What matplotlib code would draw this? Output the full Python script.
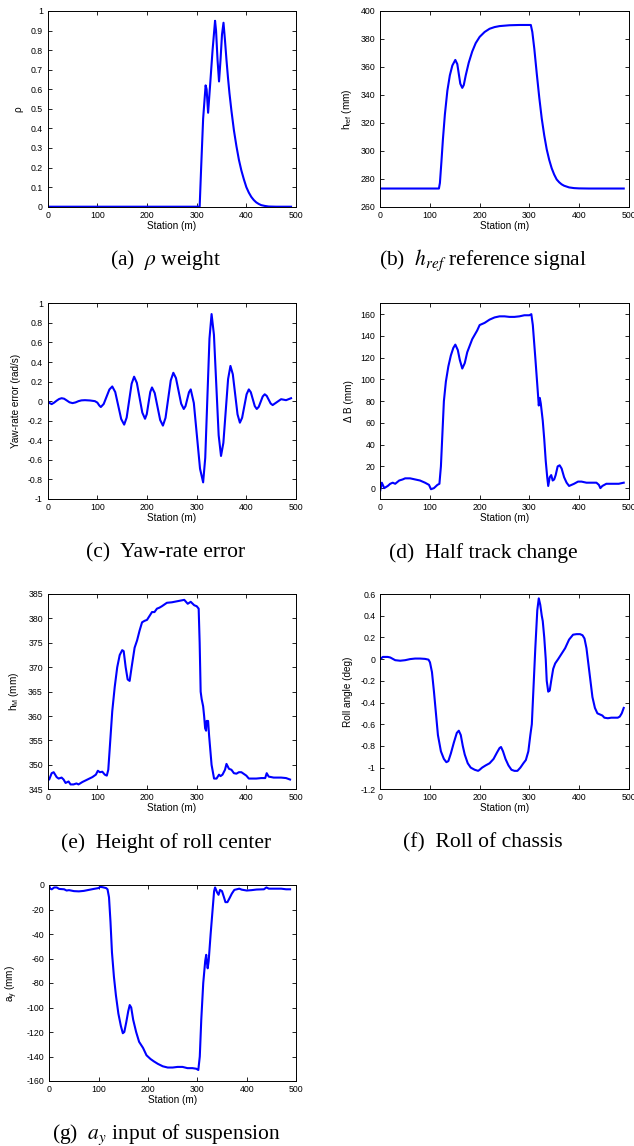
import matplotlib
matplotlib.use("Agg")
import matplotlib.pyplot as plt

plt.rcParams['font.family'] = ['Liberation Sans', 'DejaVu Sans']

# ---------------- data ----------------
rho_s = [0, 100, 200, 300, 306, 309, 313, 318, 320, 323, 327, 332, 337, 339, 342, 345, 348, 351, 354,
         357, 360, 363, 366, 370, 375, 380, 385, 390, 395, 400, 405, 410, 415, 420, 425, 430, 437, 445, 460, 490]
rho_v = [0, 0, 0, 0, 0, 0.2, 0.45, 0.62, 0.6, 0.48, 0.62, 0.8, 0.95, 0.9, 0.75, 0.64, 0.75, 0.88, 0.94,
         0.85, 0.75, 0.66, 0.58, 0.49, 0.39, 0.31, 0.24, 0.185, 0.14, 0.1, 0.072, 0.05, 0.034, 0.022, 0.014, 0.008, 0.004, 0.001, 0, 0]

href_s = [0, 100, 118, 120, 123, 126, 130, 135, 140, 145, 151, 155, 158, 161, 165, 168, 172, 178, 185, 192,
          200, 210, 220, 230, 240, 260, 280, 300, 303, 306, 310, 315, 320, 325, 330, 335, 340, 345, 350, 355,
          360, 365, 370, 380, 390, 400, 420, 490]
href_v = [273, 273, 273, 277, 292, 308, 326, 343, 354, 361, 365, 362, 355, 348, 345, 347, 354, 363, 371, 377,
          381.5, 385, 387.3, 388.5, 389.2, 389.8, 390, 390, 390, 385, 373, 355, 338, 323, 311, 301, 293.5, 287.5, 283, 279.5,
          277.5, 276, 275, 273.8, 273.3, 273.1, 273, 273]

yaw_s = [0, 4, 8, 13, 18, 23, 28, 33, 39, 44, 50, 56, 62, 68, 75, 85, 95, 100, 104, 107,
         112.75, 118.5, 124.25, 130, 136, 142, 148, 154, 159, 164, 169, 174, 179.5, 185, 190.5, 196,
         199.5, 203, 206.5, 210, 215.5, 221, 226.5, 232, 237.25, 242.5, 247.75, 253, 258.25, 263.5, 268.75, 274,
         277.5, 281, 284.5, 288, 294.25, 300.5, 306.75, 313, 317.25, 321.5, 325.75, 330, 334.75, 339.5, 344.25, 349,
         353.75, 358.5, 363.25, 368, 372.75, 377.5, 382.25, 387, 391.5, 396, 400.5, 405, 409, 413, 417, 421,
         425, 429, 433, 437, 441, 445, 449, 453, 461.5, 470, 475, 480, 485, 490]
yaw_v = [0, -0.02, -0.03, -0.015, 0.005, 0.022, 0.03, 0.025, 0.005, -0.012, -0.02, -0.013, 0.0, 0.008, 0.01, 0.007, 0.0, -0.015, -0.045, -0.06,
         -0.029, 0.045, 0.119, 0.15, 0.093, -0.045, -0.183, -0.24, -0.168, 0.005, 0.178, 0.25, 0.187, 0.035, -0.117, -0.18,
         -0.133, -0.02, 0.093, 0.14, 0.083, -0.055, -0.193, -0.25, -0.171, 0.02, 0.211, 0.29, 0.236, 0.105, -0.026, -0.08,
         -0.051, 0.02, 0.091, 0.12, -0.019, -0.355, -0.691, -0.83, -0.579, 0.03, 0.639, 0.89, 0.678, 0.165, -0.348, -0.56,
         -0.426, -0.1, 0.226, 0.36, 0.275, 0.07, -0.135, -0.22, -0.17, -0.05, 0.07, 0.12, 0.091, 0.02, -0.051, -0.08,
         -0.058, -0.005, 0.048, 0.07, 0.054, 0.015, -0.024, -0.04, -0.01, 0.02, 0.015, 0.01, 0.02, 0.03]

dB_s = [0, 3, 8, 15, 20, 25, 30, 38, 45, 50, 60, 70, 80, 90, 98, 102, 108, 115, 119, 122, 125, 128, 132, 137,
        142, 147, 151, 156, 160, 165, 170, 175, 185, 195, 200, 210, 220, 230, 240, 250, 260, 270, 280, 290, 300,
        304, 307, 312, 316, 319, 321, 323, 327, 330, 333, 336, 338, 341, 344, 347, 350, 353, 357, 361, 365, 370,
        375, 380, 385, 390, 398, 405, 415, 425, 435, 440, 443, 447, 455, 470, 480, 490]
dB_v = [-2, 5, 0, 2, 4, 5, 4, 7, 8, 9, 9, 8, 7, 5, 3, -1, 0, 3, 4, 20, 50, 80, 98, 112,
        122, 129, 132, 127, 118, 110, 115, 125, 137, 145, 150, 152, 155, 157, 158, 158, 157.5, 157.5, 158, 159, 159,
        160, 150, 120, 95, 76, 83, 78, 62, 45, 25, 10, 2, 10, 12, 7, 8, 12, 20, 21, 18, 10,
        5, 2, 3, 4, 6, 6, 5, 5, 5, 3, 0, 2, 4, 4, 4, 5]

hM_s = [0, 3, 8, 12, 18, 22, 28, 32, 36, 42, 46, 52, 58, 62, 70, 80, 90, 97, 101, 105, 110, 115, 119, 122, 126,
        130, 135, 140, 145, 150, 153, 157, 161, 165, 169, 175, 180, 185, 190, 195, 200, 205, 210, 215, 220, 225,
        230, 240, 250, 260, 270, 275, 282, 288, 295, 300, 304, 306, 308, 310, 313, 315, 317, 319, 320, 323, 325,
        330, 335, 340, 345, 348, 352, 357, 360, 365, 370, 375, 380, 385, 390, 400, 405, 420, 430, 438, 441, 445,
        455, 470, 480, 488]
hM_v = [347, 347, 348.3, 348.5, 347.5, 347.2, 347.4, 347, 346.3, 346.6, 346, 346, 346.2, 346, 346.5, 347, 347.5, 348, 348.8, 348.5, 348.6, 348, 347.8, 349, 355,
        361, 366, 370, 372.5, 373.5, 373.3, 370, 367.5, 367.2, 370, 374, 375.5, 377.5, 379.2, 379.5, 379.7, 380.5, 381.3, 381.3, 382, 382.2,
        382.5, 383.2, 383.3, 383.5, 383.7, 383.8, 383, 383.4, 382.7, 382.5, 382, 375, 365, 363.5, 362, 360, 357.5, 357, 359, 359, 356,
        350, 347.2, 347.2, 348, 347.7, 348, 349, 350.2, 349.2, 349, 348.3, 348.2, 348.5, 348.5, 347.8, 347.2, 347.2, 347.3, 347.3, 348.3, 347.6,
        347.4, 347.4, 347.3, 347]

roll_s = [0, 5, 15, 20, 30, 40, 50, 60, 70, 80, 90, 97, 100, 104, 108, 112, 116, 122, 128, 133, 137, 142, 148,
          154, 158, 162, 166, 170, 176, 182, 190, 197, 200, 205, 212, 220, 228, 235, 240, 243, 247, 252, 258, 264,
          270, 276, 282, 288, 293, 298, 302, 305, 308, 312, 316, 319, 322, 325, 327, 330, 333, 335, 338, 341, 344,
          348, 352, 358, 365, 372, 380, 388, 395, 402, 407, 411, 415, 419, 423, 427, 432, 437, 442, 447, 451, 458,
          465, 472, 478, 482, 486, 490]
roll_v = [0.0, 0.02, 0.02, 0.015, -0.01, -0.015, -0.01, 0.0, 0.005, 0.005, 0.002, -0.005, -0.03, -0.12, -0.3, -0.5, -0.7, -0.85, -0.92, -0.95, -0.94, -0.87, -0.77,
          -0.68, -0.66, -0.7, -0.8, -0.88, -0.96, -1.0, -1.02, -1.03, -1.02, -1.0, -0.98, -0.96, -0.92, -0.86, -0.82, -0.81, -0.85, -0.92, -0.98, -1.02,
          -1.03, -1.03, -1.0, -0.96, -0.93, -0.85, -0.7, -0.6, -0.3, 0.1, 0.45, 0.56, 0.5, 0.4, 0.35, 0.2, 0.0, -0.2, -0.3, -0.29, -0.2,
          -0.09, -0.04, 0.0, 0.05, 0.1, 0.18, 0.225, 0.23, 0.23, 0.22, 0.19, 0.1, -0.05, -0.2, -0.35, -0.45, -0.5, -0.51, -0.52, -0.54, -0.545,
          -0.54, -0.54, -0.54, -0.53, -0.5, -0.45]

ay_s = [0, 2, 5, 10, 15, 20, 30, 35, 40, 50, 60, 70, 80, 90, 100, 103, 108, 115, 118, 121, 124, 127, 131, 135,
        140, 145, 149, 152, 156, 160, 163, 166, 170, 176, 182, 190, 197, 205, 212, 220, 230, 240, 250, 260, 270,
        280, 290, 298, 302, 305, 308, 312, 316, 318, 320, 321, 323, 327, 331, 334, 336, 340, 343, 346, 350, 354,
        357, 361, 365, 370, 375, 380, 385, 390, 400, 410, 420, 435, 440, 445, 460, 470, 480, 488]
ay_v = [-1, -3, -3.5, -2, -2, -3.2, -3.5, -4.5, -4.2, -5, -5.2, -4.8, -4, -3.2, -2.5, -1.5, -1.8, -2.5, -3.5, -10, -30, -55, -75, -90,
        -105, -115, -121, -120, -112, -103, -98, -100, -110, -120, -128, -133, -139, -142, -144, -146, -148, -149, -149, -148.5, -148.5,
        -149.5, -149.5, -150, -151, -140, -110, -80, -62, -57, -65, -68, -62, -40, -20, -5, -2, -6, -8, -4, -5, -10,
        -14, -14, -11, -7, -4, -3.5, -3, -3.8, -4.5, -4.2, -3.7, -3.5, -2, -3, -3, -3, -3.5, -3.5]

xticks = [0, 100, 200, 300, 400, 500]
xlabel = "Station (m)"

panels = [
    # (x, y, ylabel, ylim, yticks, axes rect px (l, t, r, b), caption, caption center x, caption y)
    (rho_s, rho_v, "ρ", (0, 1), [0, 0.1, 0.2, 0.3, 0.4, 0.5, 0.6, 0.7, 0.8, 0.9, 1],
     (47.7, 11, 296, 206.7), r"(a)  $\rho$ weight", 166, 260),
    (href_s, href_v, r"h$_\mathregular{ref}$ (mm)", (260, 400), [260, 280, 300, 320, 340, 360, 380, 400],
     (380.3, 11, 628.7, 206.7), r"(b)  $h_{ref}$ reference signal", 483, 260),
    (yaw_s, yaw_v, "Yaw-rate error (rad/s)", (-1, 1), [-1, -0.8, -0.6, -0.4, -0.2, 0, 0.2, 0.4, 0.6, 0.8, 1],
     (47.7, 303.3, 296, 499), "(c)  Yaw-rate error", 166, 553),
    (dB_s, dB_v, "Δ B (mm)", (-10, 170), [0, 20, 40, 60, 80, 100, 120, 140, 160],
     (380.3, 303.3, 628.7, 499), "(d)  Half track change", 483, 553),
    (hM_s, hM_v, r"h$_\mathregular{M}$ (mm)", (345, 385), [345, 350, 355, 360, 365, 370, 375, 380, 385],
     (47.7, 594, 296, 789.3), "(e)  Height of roll center", 166, 843),
    (roll_s, roll_v, "Roll angle (deg)", (-1.2, 0.6), [-1.2, -1, -0.8, -0.6, -0.4, -0.2, 0, 0.2, 0.4, 0.6],
     (380.3, 594, 628.7, 789.3), "(f)  Roll of chassis", 483, 843),
    (ay_s, ay_v, r"a$_\mathregular{y}$ (mm)", (-160, 0), [-160, -140, -120, -100, -80, -60, -40, -20, 0],
     (49.3, 885, 296, 1081), r"(g)  $a_y$ input of suspension", 166, 1135),
]

W, H = 634, 1146
fig = plt.figure(figsize=(W / 100, H / 100), dpi=100)

def fmt(v):
    return "%g" % v

for xs, ys, ylab, ylim, yt, (l, t, r, b), cap, cx, cy in panels:
    ax = fig.add_axes([l / W, 1 - b / H, (r - l) / W, (b - t) / H])
    ax.plot(xs, ys, color=(0, 0, 1), lw=1.5, solid_joinstyle='round')
    ax.set_xlim(0, 500)
    ax.set_ylim(*ylim)
    ax.set_xticks(xticks)
    ax.set_xticklabels([fmt(v) for v in xticks])
    ax.set_yticks(yt)
    ax.set_yticklabels([fmt(v) for v in yt])
    ax.tick_params(direction='in', top=True, right=True, length=3, width=0.6,
                   labelsize=6.3, colors='black')
    ax.tick_params(axis='x', pad=3)
    ax.tick_params(axis='y', pad=3.5)
    for sp in ax.spines.values():
        sp.set_linewidth(0.7)
    ax.set_xlabel(xlabel, fontsize=7.2, labelpad=0.5)
    ax.set_ylabel(ylab, fontsize=7.2, labelpad=5)
    fig.text(cx / W, 1 - cy / H, cap, ha='center', va='center', fontsize=15.5,
             family=['Liberation Serif', 'DejaVu Serif'], math_fontfamily='stix')

fig.savefig("out.png", dpi=100)
